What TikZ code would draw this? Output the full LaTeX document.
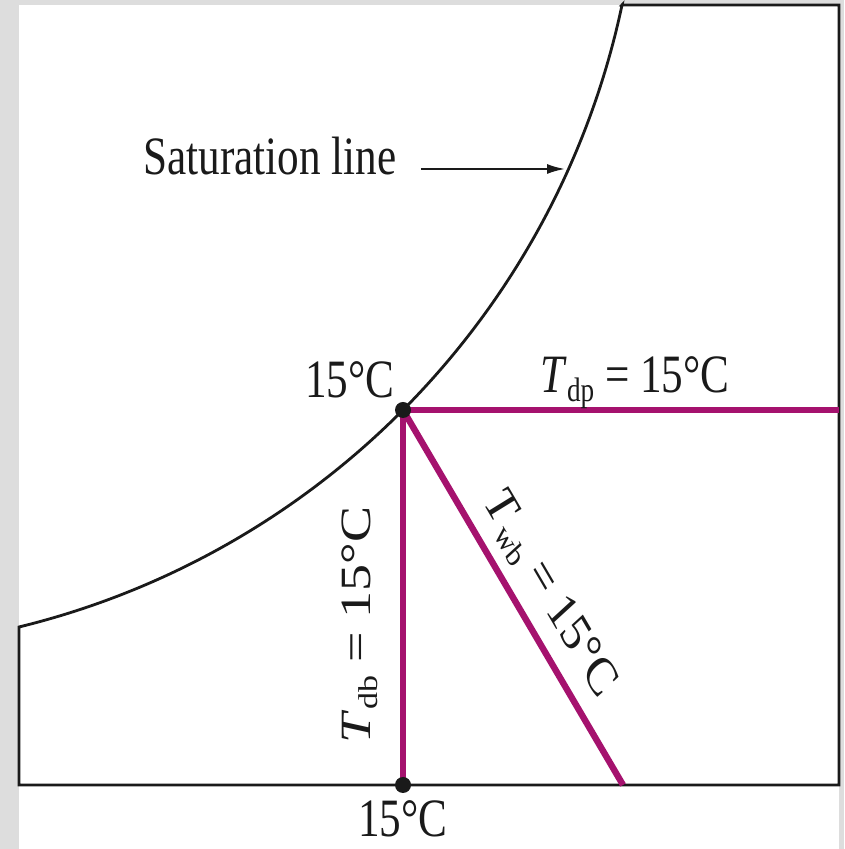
\documentclass[tikz,border=0pt]{standalone}
\usepackage{fontspec}
\setmainfont{Liberation Serif}
\usetikzlibrary{arrows.meta}
\definecolor{Frame}{HTML}{DDDDDD}
\definecolor{Ink}{HTML}{1A1A1A}
\definecolor{Magenta}{HTML}{A5126E}
\newcommand{\tsym}[1]{\textit{T}\raisebox{-4.5pt}{\fontsize{17}{17}\selectfont #1}}
\tikzset{
  chart/.style={draw=Ink,line width=1.4pt},
  tline/.style={draw=Magenta,line width=3.2pt},
  dot/.style={circle,fill=Ink,inner sep=0pt,minimum size=8pt},
  lbl/.style={font=\fontsize{27}{30}\selectfont,text=Ink,inner sep=0pt,anchor=base,xscale=0.8},
  pointer/.style={-{Latex[length=9pt,width=5pt]},draw=Ink,line width=1pt}
}

\begin{document}
\begin{tikzpicture}[x=0.5pt,y=0.5pt]
  \fill[Frame] (0,0) rectangle (844,849);
  \fill[white] (19,0) rectangle (839,844);
  \draw[chart] (622,844) -- (839,844) -- (839,64) -- (19,64) -- (19,222)
    arc[start angle=-76.24,end angle=-11.98,radius=814.5] -- cycle;
  \coordinate (sat) at (403,439);
  \coordinate (dry) at (403,64);
  \coordinate (dpend) at (839,439);
  \coordinate (wbend) at (623,64);
  \coordinate (curvept) at (565,680);
  \draw[tline] (sat) -- (dpend);
  \draw[tline] (sat) -- (dry);
  \draw[tline] (sat) -- (wbend);
  \node[dot] (satdot) at (sat) {};
  \node[dot] (drydot) at (dry) {};
  \node[lbl] (satlbl) at (270,674) {Saturation line};
  \draw[pointer,shorten <=12pt] (satlbl.east |- curvept) -- (curvept);
  \node[lbl] (satval) at (350,451) {15°C};
  \node[lbl] (dryval) at (403,12) {15°C};
  \node[lbl] (dplbl) at (635,456) {\tsym{dp} = 15°C};
  \node[lbl,rotate=90] (dblbl) at (370,224) {\tsym{db} = 15°C};
  \node[lbl,rotate=-53.75] (wblbl) at (541,247) {\tsym{wb} = 15°C};
\end{tikzpicture}
\end{document}
